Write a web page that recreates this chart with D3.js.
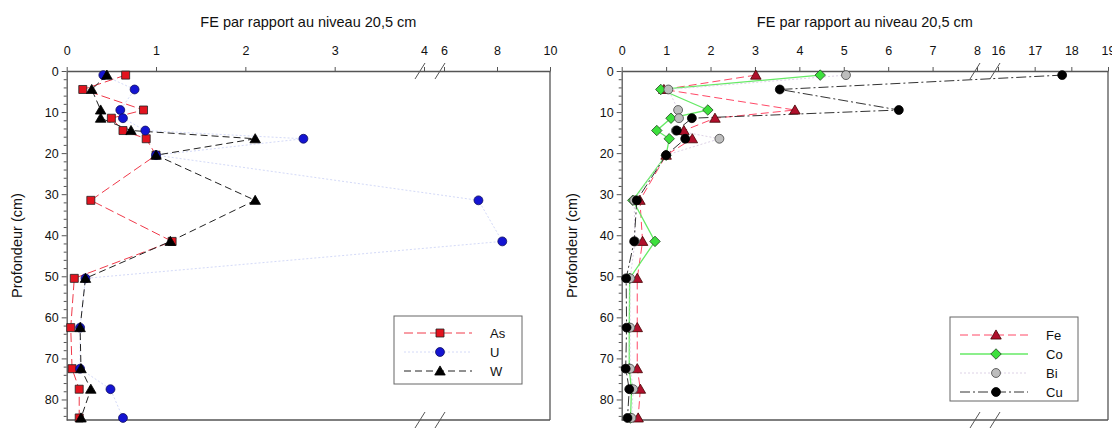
<!DOCTYPE html>
<html><head><meta charset="utf-8">
<script src="https://cdn.jsdelivr.net/npm/d3@7/dist/d3.min.js"></script>
<style>
html,body{margin:0;padding:0;background:#fff;}
svg{display:block;font-family:"Liberation Sans",Arial,sans-serif;}
</style></head>
<body>
<svg id="c" width="1112" height="428"></svg>
<script>
const depths = [1, 4.5, 9.5, 11.5, 14.5, 16.5, 20.5, 31.5, 41.5, 50.5, 62.5, 72.5, 77.5, 84.5];
// left panel
const As = [0.66, 0.18, 0.86, 0.5, 0.63, 0.89, 1, 0.27, 1.18, 0.085, 0.045, 0.06, 0.14, 0.14];
const U  = [0.41, 0.76, 0.6, 0.63, 0.88, 2.65, 1, 7.3, 8.2, 0.21, 0.15, 0.15, 0.49, 0.63];
const W  = [0.45, 0.28, 0.38, 0.38, 0.72, 2.11, 1, 2.11, 1.16, 0.21, 0.15, 0.16, 0.27, 0.16];
// right panel
const Fe = [3.02, 0.95, 3.9, 2.1, 1.4, 1.59, 1, 0.41, 0.47, 0.35, 0.35, 0.35, 0.42, 0.37];
const Co = [4.47, 0.88, 1.94, 1.11, 0.79, 1.07, 1, 0.25, 0.75, 0.18, 0.17, 0.17, 0.22, 0.2];
const Bi = [5.05, 1.05, 1.27, 1.29, 1.22, 2.2, 1, 0.28, 0.3, 0.19, 0.19, 0.19, 0.26, 0.22];
const Cu = [17.75, 3.56, 6.24, 1.58, 1.24, 1.43, 1, 0.34, 0.28, 0.1, 0.11, 0.09, 0.17, 0.13];

const leftTicks = [0, 1, 2, 3, 4, 6, 8, 10];
const rightTicks = [0, 1, 2, 3, 4, 5, 6, 7, 8, 16, 17, 18, 19];
const yTicks = [0, 10, 20, 30, 40, 50, 60, 70, 80];
const titleText = "FE par rapport au niveau 20,5 cm";
const yLabel = "Profondeur (cm)";

const svg = d3.select("#c");
const axisCol = "#555";

const y = d3.scaleLinear().domain([0, 85]).range([71, 420]);

function panel(cfg) {
  const x = d3.scaleLinear().domain(cfg.xDomain).range(cfg.xRange);
  const g = svg.append("g");
  const x0 = cfg.xRange[0], x1 = cfg.xRange[cfg.xRange.length - 1];
  const y0 = y(0), y1 = y(85);
  g.append("line").attr("x1", x1).attr("x2", x1).attr("y1", y0).attr("y2", y1)
    .attr("stroke", axisCol).attr("stroke-width", 1.3);
  g.append("line").attr("x1", x0).attr("x2", x1).attr("y1", y1).attr("y2", y1)
    .attr("stroke", axisCol).attr("stroke-width", 1.3);
  const top = d3.axisTop(x).tickValues(cfg.ticks).tickSize(4).tickSizeOuter(0).tickFormat(d3.format("d"));
  const ta = g.append("g").attr("transform", `translate(0,${y0})`).call(top);
  ta.select(".domain").attr("stroke", axisCol).attr("stroke-width", 1.3);
  ta.selectAll(".tick line").attr("stroke", axisCol);
  ta.selectAll(".tick text").attr("font-size", 12.5).attr("fill", "#111").attr("dy", "-0.75em")
    .attr("font-family", "Liberation Sans, Arial, sans-serif");
  const left = d3.axisLeft(y).tickValues(yTicks).tickSize(5).tickSizeOuter(0);
  const la = g.append("g").attr("transform", `translate(${x0},0)`).call(left);
  la.select(".domain").attr("stroke", axisCol).attr("stroke-width", 1.3);
  la.selectAll(".tick line").attr("stroke", axisCol);
  la.selectAll(".tick text").attr("font-size", 12.5).attr("fill", "#111")
    .attr("font-family", "Liberation Sans, Arial, sans-serif");
  const minor = d3.axisLeft(y).tickValues(d3.range(0, 86, 2).filter(v => v % 10 !== 0)).tickSize(3).tickFormat("");
  const ma = g.append("g").attr("transform", `translate(${x0},0)`).call(minor);
  ma.select(".domain").remove();
  ma.selectAll(".tick line").attr("stroke", axisCol);
  const bx = cfg.breakX;
  [y0, y1].forEach(yy => {
    bx.forEach(b => {
      g.append("line").attr("x1", b - 5).attr("y1", yy + 8).attr("x2", b + 5).attr("y2", yy - 8)
        .attr("stroke", axisCol).attr("stroke-width", 1);
    });
  });
  g.append("text").attr("x", (x0 + x1) / 2).attr("y", 27).attr("text-anchor", "middle")
    .attr("font-size", 14.5).attr("fill", "#111").text(titleText);
  g.append("text").attr("transform", `translate(${cfg.yLabelX},${(y0 + y1) / 2}) rotate(-90)`)
    .attr("text-anchor", "middle").attr("font-size", 14.5).attr("fill", "#111").text(yLabel);

  cfg.series.forEach(s => {
    const pts = depths.map((d, i) => [x(s.values[i]), y(d)]);
    g.append("path").attr("d", d3.line()(pts)).attr("fill", "none")
      .attr("stroke", s.lineColor).attr("stroke-width", s.lw || 1)
      .attr("stroke-dasharray", s.dash || null);
  });
  cfg.series.forEach(s => {
    depths.forEach((d, i) => {
      drawMarker(g, s, x(s.values[i]), y(d));
    });
  });
  const L = cfg.legend;
  g.append("rect").attr("x", L.x).attr("y", L.y).attr("width", L.w).attr("height", L.h)
    .attr("fill", "#fff").attr("stroke", "#666").attr("stroke-width", 1);
  cfg.series.forEach((s, i) => {
    const ly = L.y + L.first + i * L.step;
    g.append("line").attr("x1", L.x + 10).attr("x2", L.x + 78).attr("y1", ly).attr("y2", ly)
      .attr("stroke", s.lineColor).attr("stroke-width", s.lw || 1).attr("stroke-dasharray", s.dash || null);
    drawMarker(g, s, L.x + 46, ly);
    g.append("text").attr("x", L.x + L.textX).attr("y", ly + 5).attr("font-size", 13).attr("fill", "#111").text(s.name);
  });
}

function drawMarker(g, s, cx, cy) {
  const sym = { square: d3.symbolSquare, circle: d3.symbolCircle, triangle: d3.symbolTriangle, diamond: d3.symbolDiamond2 }[s.shape];
  const size = { square: 64, circle: 62, triangle: 48, diamond: 70 }[s.shape];
  g.append("path").attr("d", d3.symbol().type(sym).size(size)())
    .attr("transform", `translate(${cx},${cy + (s.shape === "triangle" ? 1 : 0)})`)
    .attr("fill", s.fill).attr("stroke", s.stroke || "#222").attr("stroke-width", 0.8);
}

panel({
  xDomain: [0, 4, 6, 10], xRange: [66.7, 424, 444, 550],
  ticks: leftTicks, breakX: [420, 440], yLabelX: 22,
  legend: { x: 394, y: 316, w: 128, h: 68, first: 17, step: 19, textX: 96 },
  series: [
    { name: "As", values: As, shape: "square", fill: "#e3141f", lineColor: "#f03a4a", dash: "9,4" },
    { name: "U", values: U, shape: "circle", fill: "#1414d2", stroke: "#101060", lineColor: "#d4daf8", dash: "2,2" },
    { name: "W", values: W, shape: "triangle", fill: "#000", stroke: "#000", lineColor: "#222", dash: "7,4" }
  ]
});

panel({
  xDomain: [0, 8, 16, 19], xRange: [621.7, 977, 998, 1108],
  ticks: rightTicks, breakX: [975, 995], yLabelX: 577,
  legend: { x: 950, y: 317, w: 128, h: 84, first: 18, step: 19, textX: 96 },
  series: [
    { name: "Fe", values: Fe, shape: "triangle", fill: "#b0102c", stroke: "#400", lineColor: "#ff4866", dash: "8,4" },
    { name: "Co", values: Co, shape: "diamond", fill: "#3ce03c", stroke: "#224422", lineColor: "#66ea66", lw: 1.3 },
    { name: "Bi", values: Bi, shape: "circle", fill: "#bdbdbd", stroke: "#444", lineColor: "#ddd2e6", dash: "2,2" },
    { name: "Cu", values: Cu, shape: "circle", fill: "#000", stroke: "#000", lineColor: "#333", dash: "10,3,2,3" }
  ]
});
</script>
</body></html>
